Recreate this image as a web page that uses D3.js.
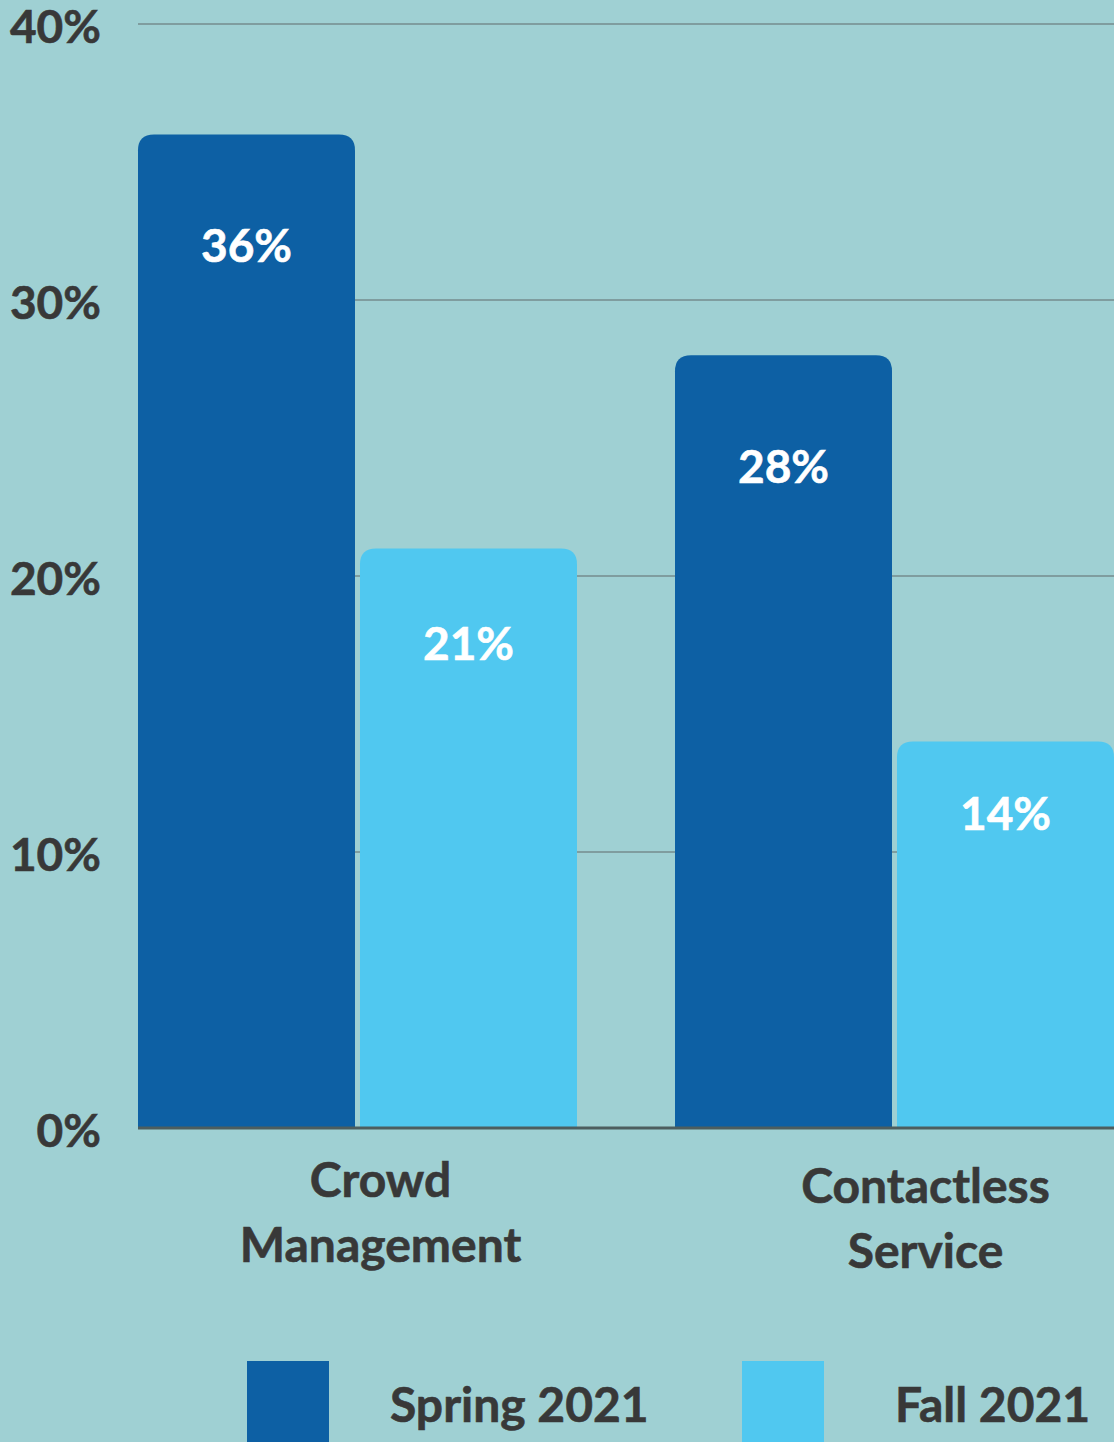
<!DOCTYPE html>
<html><head><meta charset="utf-8">
<script src="https://cdn.jsdelivr.net/npm/d3@7"></script>
<style>html,body{margin:0;padding:0;background:#9fd0d3;overflow:hidden}svg{display:block;font-family:Lato,"Open Sans",sans-serif;font-weight:700}</style>
</head><body>
<svg id="c" width="1114" height="1442"></svg>
<script>
const categories = [["Crowd","Management"],["Contactless","Service"]];
const categoryKeys = ["Crowd Management","Contactless Service"];
const seriesNames = ["Spring 2021","Fall 2021"];
const spring = [36,28];
const fall = [21,14];
const tickValues = [0,10,20,30,40];
const tickLabels = ["0%","10%","20%","30%","40%"];
const colors = ["#0d60a4","#50c8f0"];

const svg = d3.select("#c");
const W = 1114, H = 1442;
svg.append("rect").attr("width",W).attr("height",H).attr("fill","#9fd0d3");

const y = d3.scaleLinear().domain([0,40]).range([1128,24]);
const x0 = d3.scaleBand().domain(categoryKeys).range([138,1114]).paddingInner(98/537).paddingOuter(0);
const x1 = d3.scaleBand().domain(seriesNames).range([0,x0.bandwidth()]).paddingInner(5/222).paddingOuter(0);

// gridlines
svg.append("g").selectAll("line").data(tickValues.filter(d=>d>0)).join("line")
  .attr("x1",138).attr("x2",W).attr("y1",d=>y(d)).attr("y2",d=>y(d))
  .attr("stroke","#7f9d9f").attr("stroke-width",2);

// tick labels
svg.append("g").selectAll("text").data(tickValues).join("text")
  .attr("x",101).attr("y",d=>y(d)).attr("dy","0.42em").attr("text-anchor","end")
  .attr("font-size",46).attr("fill","#383838").attr("stroke","#383838").attr("stroke-width",0.6)
  .text((d,i)=>tickLabels[i]);

const data = [];
categoryKeys.forEach((c,i)=>{
  data.push({c, s:seriesNames[0], v:spring[i], color:colors[0]});
  data.push({c, s:seriesNames[1], v:fall[i], color:colors[1]});
});

function topRounded(x,yt,w,h,r){
  return `M${x},${yt+h}V${yt+r}Q${x},${yt} ${x+r},${yt}H${x+w-r}Q${x+w},${yt} ${x+w},${yt+r}V${yt+h}Z`;
}
svg.append("g").selectAll("path").data(data).join("path")
  .attr("d",d=>{const bx=x0(d.c)+x1(d.s); const yt=y(d.v); return topRounded(bx,yt,x1.bandwidth(),y(0)-yt,16);})
  .attr("fill",d=>d.color);

// value labels: placed inside bar near top, offset shrinking for short bars
const labelOffset = v => Math.min(111, 24 + 3.4*v);
svg.append("g").selectAll("text").data(data).join("text")
  .attr("x",d=>x0(d.c)+x1(d.s)+x1.bandwidth()/2)
  .attr("y",d=>y(d.v)+labelOffset(d.v)).attr("dy","0.36em").attr("text-anchor","middle")
  .attr("font-size",46).attr("fill","#ffffff").attr("stroke","#ffffff").attr("stroke-width",0.6)
  .text(d=>d.v+"%");

// baseline
svg.append("line").attr("x1",138).attr("x2",W).attr("y1",y(0)).attr("y2",y(0))
  .attr("stroke","#4d5e5f").attr("stroke-width",3);

// category labels
const catShift = [23,31];
const catTop = [1197,1203];
categoryKeys.forEach((c,i)=>{
  const t = svg.append("text").attr("text-anchor","middle").attr("font-size",48)
    .attr("fill","#383838").attr("stroke","#383838").attr("stroke-width",0.6);
  categories[i].forEach((line,j)=>{
    t.append("tspan").attr("x",x0(c)+x0.bandwidth()/2+catShift[i]).attr("y",catTop[i]+j*65).text(line);
  });
});

// legend
const legX = [247,742], legTextX = [390,895];
seriesNames.forEach((s,i)=>{
  svg.append("rect").attr("x",legX[i]).attr("y",1361).attr("width",82).attr("height",90).attr("fill",colors[i]);
  svg.append("text").attr("x",legTextX[i]).attr("y",1422).attr("font-size",48)
    .attr("fill","#383838").attr("stroke","#383838").attr("stroke-width",0.6).text(s);
});
</script>
</body></html>
